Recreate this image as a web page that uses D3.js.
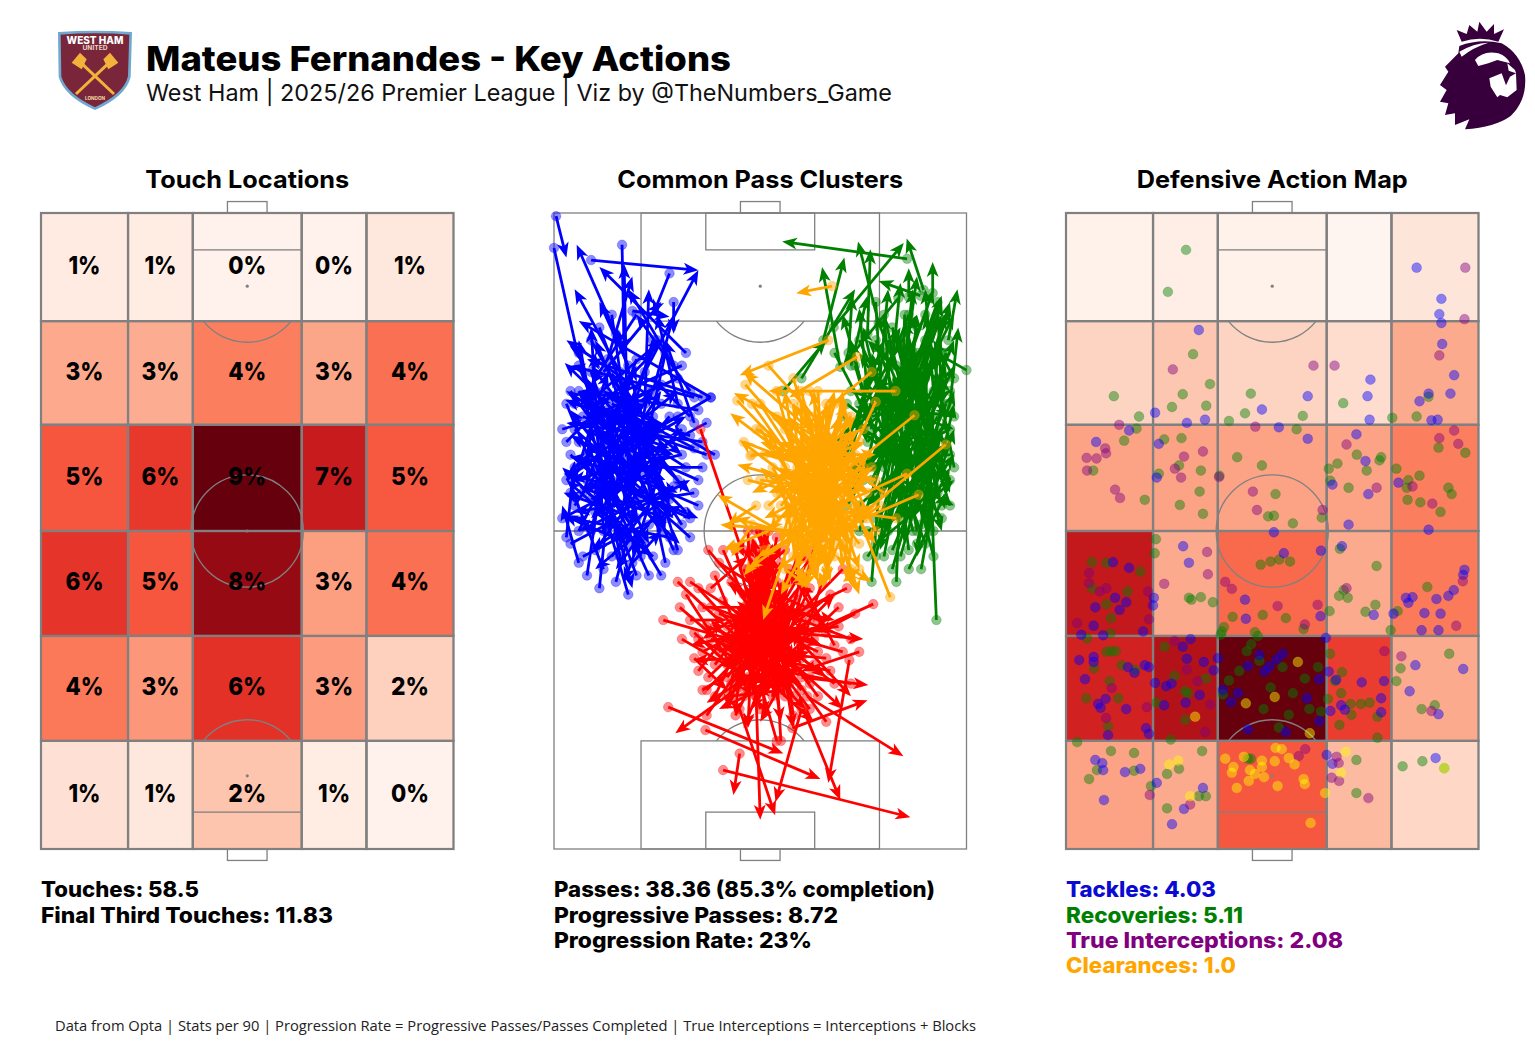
<!DOCTYPE html>
<html>
<head>
<meta charset="utf-8">
<script src="https://cdn.jsdelivr.net/npm/d3@7"></script>
<style>
  html, body { margin: 0; padding: 0; background: #fff; }
  svg { display: block; }
  text { font-family: Inter, "Noto Sans", sans-serif; }
</style>
</head>
<body>
<svg id="chart" width="1535" height="1044"></svg>
<script>
// pitch zones, read left to right and far end first
const zoneAcross = [0, 21.1, 36.8, 63.2, 78.9, 100];
const zoneAlong = [100, 83, 66.7, 50, 33.5, 17, 0];

const touchShare = [
  [0.51, 0.5, 0.2, 0.15, 0.75],
  [2.8, 2.7, 4.0, 2.9, 4.4],
  [5.1, 5.9, 9.2, 7.0, 5.0],
  [6.0, 5.1, 8.3, 3.1, 4.4],
  [4.2, 3.3, 6.1, 3.2, 1.6],
  [1.0, 0.7, 2.0, 0.5, 0.2],
];

const defensiveCount = [
  [0.8, 1.6, 0.8, 0, 3.5],
  [6.5, 8.5, 6.5, 5, 12],
  [13, 13, 13, 13, 17.5],
  [31, 12, 20, 12, 18],
  [29, 33, 40, 25, 12],
  [13, 12, 22, 10, 6],
];

// passes: [across start, along start, across end, along end]
const bluePasses = [
  [0.5,99.5,3,93],[0,94.5,6,77],[9,92.6,35,91],[16.5,95,17,78],[28,90.5,24,84],[29,86,29,81],[19,84.6,28,83.7],[15,81,5.5,95],
  [32,78,11,91.5],[13,77,19,90],[22,75,35,91],[16,75,5,88],[29,76,18,88],[38,71,6,83],[18,58,17,92],[36,71,8,77],
  [34,71,4,76],[30,74,9,68],[26,73,6,66],[33,65,8,70],[39,62,12,72],[36,64,3,67],[34,63,16,69],[37,62,19,66],
  [32,60,3,72],[30,68,6,60],[38,71,14,62],[2,66,22,70],[4,72,14,63],[7,68,28,63],[12,72,31,62],[10,60,32,68],
  [9,55,28,62],[5,60,22,70],[6,50,20,68],[4,56,13,75],[3,64,24,78],[8,70,26,80],[24,58,10,80],[20,55,8,74],
  [25,60,15,82],[28,55,14,75],[30,58,9,76],[26,50,4,69],[22,48,6,62],[18,50,2,60],[24,46,3,58],[28,49,4,52],
  [27,52,6,57],[35,54,10,61],[33,52,12,58],[34,56,5,53],[33,49,14,60],[31,51,16,66],[29,47,17,64],[6,45,2,54],
  [12,44,4,57],[20,43,8,64],[23,43,11,60],[26,43,14,56],[18,40,10,58],[3,49,5,61],[14,58,30.5,48],[10,53,24,46],
  [13,56,19,41],[16,68,2.6,76.4],[22,66,2.7,70.6],[24,60,3.9,61.6],[22,56,2.3,59],[20,52,2.3,56],[18,48,2.3,52.5],[6,64,27,58],
  [10,66,29,62],[14,70,32,65],[5,70,26,66],[21,64,6,72],[15,61,26,72],[13,64,20,76],[18,62,10,66],[8,62,30,56],
  [25,65,12,54],[28,68,15,58],[31,66,9,52],[12,58,20,72],[17,54,24,66],[9,50,16,70],[11,66,21,58],[19,70,13,50],
  [23,72,16,52],[27,62,19,46],[16,57,35,52],[14,52,7,72],[21,59,4,65],[24,68,8,56],[19,66,27,50],[7,56,18,74],
  [4,62,16,55],[15,49,22,62],[10,72,24,54],[17,73,20,60],[20,77,14,66],[6,76,12,66],[24,80,17,64],[11,82,18,70],
  [20,84,9,73],[25,80,13,62],[27,78,21,60],[14,84,18,66],[9,80,23,64],[6,78,15,55],[31,76,10,70],[26,70,3,80],
  [33,72,20,84],[12,75,26,86],[18,76,11,86],[22,70,23,88],[30,70,25,84],[24,72,29,84],[34,67,27,80],[8,58,10,78],
  [12,50,9,82],[16,46,6,80],[5,54,24,72],[3,58,30,72],[2,52,26,60],[4,48,33,58],[7,46,31,54],[10,47,27,62],
  [14,46,25,56],[21,46,12,68],[27,45,18,72],[30,47,22,64],[32,53,15,64],[35,58,7,66],[36,60,17,60],[37,67,11,58],
  [35,69,6,72],[33,68,24,74],[31,62,4,58],[29,57,6,50],[27,55,9,47],[25,53,15,44],[23,51,10,44],[21,49,17,42],
  [19,45,26,50],[15,42,20,54],[11,41,14,60],[8,43,11,56],[17,71,28,54],[13,69,33,56],[9,75,19,56],[5,66,29,52],
  [3,70,17,48],[6,72,23,48],
];

const greenPasses = [
  [85.6,92.8,55.3,95.5],[78.7,82.7,73.7,95.5],[76,81,76.7,94.3],[67.8,82,84.8,95.3],[89.6,87.9,85.5,96],[91.8,87.4,91.8,92.3],[86,86.8,86,91.3],[88.8,87,78.7,89.3],
  [95.6,80,97.8,88],[69.4,75.8,65,91.5],[65.3,80,70.4,93],[71.4,78,72.3,87],[60,74,73,88],[72,76,76,87],[83.5,86.6,70,76],[93,86,84,70],
  [100,75.3,90,79],[68,78,76,68],[55.6,72,66,80],[78,60,92,82],[82,58,94,80],[86,56,95,76],[84,54,88,84],[90,52,93,78],
  [92,50,86,80],[80,65,96,72],[79,70,97,66],[77,75,95,60],[78,80,90,58],[82,82,96,56],[85,84,84,60],[88,82,80,56],
  [90,80,76,60],[94,78,78,62],[96,72,80,66],[97,68,76,70],[95,64,78,74],[92,60,74,78],[96,58,82,74],[94,54,84,76],
  [91,50,90,80],[88,48,94,66],[86,47,82,68],[82,44,90,62],[77,42,79,58],[89,51,96,60],[92.7,36,91,63],[93,62,85,83],
  [87,60,92,84],[84,66,94,86],[81,72,93,82],[79,56,87,78],[76,64,86,72],[74,70,84,82],[80,78,88,66],[83,76,96,68],
  [85,72,78,84],[88,74,72,66],[91,70,76,80],[93,74,82,60],[95,70,84,52],[96,66,72,58],[90,66,97,76],[92,56,97,70],
  [86,52,97,62],[84,58,97,54],[78,52,96,64],[82,62,75,82],[87,68,80,50],[89,64,83,80],[91,62,79,72],[93,68,86,60],
  [85,78,93,64],[88,78,86,64],[82,70,90,74],[80,60,84,72],[83,64,92,70],[86,72,90,60],[88,58,80,70],[94,60,88,76],
  [77,68,88,70],[75,58,82,78],[72,62,77,76],[70,68,85,62],[74,54,87,62],[78,46,83,60],[81,50,85,66],[89,44,93,58],
  [82,47,88,56],[76,50,90,54],[84,46,92,64],[90,57,82,52],[66,56,80,74],[68,64,78,70],[71,54,82,66],[73,60,91,66],
  [76,72,74,85],[79,74,81,88],[82,76,84,89],[85,76,88,90],[87,74,94,87],[90,74,96,85],[92,72,90,88],[94,70,93,86],
  [96,70,98,82],[97,74,92,80],[80,84,86,68],[86,84,78,70],[90,84,82,72],[92,82,85,62],[95,78,88,58],[78,86,80,64],
  [74,80,88,60],[72,72,90,68],[75,66,96,78],[77,58,97,84],[79,52,95,84],[81,54,87,88],[84,52,80,84],[87,50,77,78],
  [90,48,75,74],[92,46,84,66],[94,52,79,66],[96,54,82,82],[97,60,90,84],[95,58,76,76],[93,56,74,66],[91,54,97,66],
  [88,54,97,72],[85,60,97,80],[83,58,96,86],[81,62,94,84],[79,64,92,88],[77,66,72,80],[75,72,70,84],[73,76,82,56],
  [71,70,94,58],[70,64,88,84],[69,60,80,80],[72,56,91,76],[74,50,86,74],[76,46,93,62],[78,48,97,58],[80,46,87,70],
  [83,42,84,58],[86,44,95,56],[88,50,84,64],[90,60,78,50],[92,64,88,46],[94,66,76,54],[96,62,71,60],[95,74,89,52],
  [89,72,79,47],[87,78,85,48],[84,80,91,50],[81,80,94,50],[89,76,96,72],[91,78,83,68],
];

const redPasses = [
  [26.5,36,48,32],[30,42,50,30],[33,42,52,34],[37.4,47,53,35],[39,43,46,32],[41,47,54,28],[44,47,51,30],[27.7,22.3,55.6,15],
  [36.7,18.7,64.6,11],[45,15,43.5,8.5],[41,12.4,86.4,5],[71.6,29.7,66.5,10.4],[61.4,24,84.7,14.6],[49,24,50,4.6],[45,22,53.6,5.3],[60,22,53.7,7.4],
  [60.4,22,69.4,7.7],[45,25.5,29.4,18.2],[57.8,19,76,23.4],[60,27,76.2,25.8],[58,34,75,33],[47,34,33,32],[46,30,33.8,29.7],[77.4,38.5,62,34],
  [69,38,56,30],[70,31,54,34],[67,28,52,30],[72,26,55,28],[66,20,55,30],[55,17,54,28],[54,17,50,26],[37,21,50,33],
  [37,25,46,31],[37.4,27,52,36],[39,29,50,38],[37,35,53,31],[30.5,38,52,26],[32,40,48,24],[35,41,55,27],[36,38,48,38],
  [41,32,60,26],[42,29,59,35],[43,26,60,38],[44,34,61,30],[45,37,65,32],[47,39,68,36],[48,36,66,27],[50,34,70,22],
  [52,38,72,24],[53,30,68,40],[55,36,42,42],[57,33,44,38],[59,31,43,34],[61,34,42,30],[63,29,44,26],[62,26,46,38],
  [60,36,48,22],[58,39,46,19],[56,27,50,20],[54,35,58,19],[52,33,55,20],[50,37,51,21],[48,32,47,19],[46,36,44,21],
  [44,30,42,22],[49,30,61,22],[51,27,63,20],[53,26,40,22],[47,27,37,23],[45,31,38,36],[43,36,36,33],[50,42,52,27],
  [49,46,50,30],[51,48,53,32],[47,43,55,32],[52,44,49,28],[54,42,47,30],[48,48,56,34],[50,50,52,38],[46,44,51,36],
  [53,47,50,34],[55,45,46,34],[57,42,52,32],[59,40,50,28],[60,43,53,26],[56,38,50,42],[52,36,51,50],[50,30,47,48],
  [54,28,53,46],[48,26,50,44],[56,30,55,42],[46,40,58,37],[61,38,47,42],[64,36,50,40],[66,34,57,44],[68,32,60,42],
  [73,37,64,34],[74,31,60,28],[65,42,59,30],[63,44,53,36],[70,44,58,36],[40,45,52,40],[34,34,44,28],[36,31,45,34],
  [33,36,42,36],[39,24,44,31],[43,24,50,36],[56,24,52,34],[64,24,56,31],[62,22,48,34],[38,33,58,28],[40,37,60,33],
  [31,33,47,27],[35,28,46,37],[69,35,50,33],[67,40,48,30],[71,41,55,36],[38,41,47,46],[35.5,66,46,46],[42,24,56,25],
  [47,44,51,27],[49,42,55,26],[51,44,47,28],[53,42,58,28],[55,40,44,29],[46,38,57,25],[48,40,60,29],[50,40,45,25],
  [52,40,54,24],[54,38,48,24],[56,36,51,24],[45,33,62,35],[44,28,62,31],[43,31,58,38],[47,25,57,37],[49,24,46,37],
  [51,25,50,39],[53,24,55,38],[55,25,43,37],[57,26,44,33],[59,28,43,27],[60,30,48,26],[61,32,52,26],[62,36,46,29],
  [42,35,60,37],[41,33,56,26],[42,27,53,37],[44,25,60,34],[46,24,59,38],[58,24,47,39],[60,25,45,36],[62,27,44,35],
  [63,33,42,33],[64,31,48,36],[65,35,43,32],[40,31,54,36],[39,35,52,29],[41,39,55,31],[43,42,53,33],[57,44,50,29],
  [59,46,52,33],[61,46,47,34],[63,47,55,29],[65,49,54,37],[47,50,48,37],[49,50,56,39],[52,50,49,38],[54,49,52,42],
  [48,47,55,44],[46,47,53,41],[56,47,47,42],[50,47,47,39],[51,36,50,47],[49,36,53,48],[53,36,47,46],[47,36,55,48],
  [55,33,48,49],[45,29,51,45],[58,30,47,46],[44,21,52,31],[50,22,44,36],[58,21,55,36],[38,38,47,36],[35,33,50,28],
  [36,25,51,31],[66,30,48,31],[68,26,50,35],[62,41,50,25],[34,30,42,25],[72,33,56,37],
];

const orangePasses = [
  [67.4,88.5,58.7,87.4],[66.5,80,45,74.5],[73.5,77.4,57,71],[77,75,60,66],[82.8,72,52,72],[78,70.3,72,62],[87.4,68.2,64,56],[95,63.6,66,48],
  [85.6,59,62,52],[88.4,55.7,68,50],[83,52,60,54],[81.5,39.6,68,62],[70,48,72.6,41],[59,52,50.7,36],[68,58,61,41],[72,60,65,41],
  [62,66,46,75],[66,64,43.6,71.7],[60,60,42.7,68.5],[62,56,45,64.3],[70,56,44.4,60.4],[60,48,39.6,55.7],[58,50,40.3,51],[46.4,73,64,60],
  [44.4,70.5,66,56],[47.6,61.8,70,64],[52,76,74,60],[48,70,70,50],[54,68,76,52],[58,74,68,54],[64,72,66,50],[62,72,72,56],
  [70,70,62,52],[72,68,58,58],[75,66,56,62],[76,62,52,56],[78,58,50,64],[80,56,54,68],[74,54,58,70],[72,50,60,66],
  [68,46,62,68],[66,44,66,70],[64,46,70,72],[62,48,72,66],[58,46,76,62],[56,48,78,54],[54,52,76,58],[52,54,74,66],
  [50,58,74,56],[48,62,78,62],[50,66,64,52],[56,66,68,46],[60,70,60,46],[54,62,62,62],[58,62,70,60],[62,60,74,50],
  [64,58,58,48],[66,60,52,50],[68,62,48,56],[70,54,50,46],[72,52,54,44],[74,48,60,60],[76,56,64,66],[78,50,68,64],
  [60,64,78,48],[58,58,72,46],[64,54,66,66],[66,52,62,62],[68,50,56,56],[63,68,68,58],[61,56,73,62],[69,66,57,52],
  [71,64,63,48],[65,62,71,48],[55,56,65,46],[53,60,67,44],[67,70,64,44],[60,54,77,60],[57,52,70,68],[73,58,55,52],
  [75,52,59,56],[49,54,42,51],[52,50,41,47],[55,50,44,52],[48,51,43,46],[60,50,47,44],[63,50,55,40],[69,48,64,41],
  [67,46,58,42],[62,44,61,41],[71,46,74,40],[74,44,70,42],[72,44,77,42],[56,44,62,41],[66,48,60,41],[51,47,46,43],
  [60,72,68,48],[66,70,60,50],[64,66,64,44],[68,70,58,46],[71,68,62,44],[74,64,56,48],[77,60,58,44],[79,54,62,46],
  [76,52,54,60],[70,48,50,60],[66,46,52,66],[62,46,56,72],[59,48,68,72],[57,50,71,70],[55,54,73,68],[53,58,75,64],
  [51,62,77,58],[49,66,76,56],[47,58,72,54],[46,64,70,58],[50,70,66,54],[54,72,64,48],[58,70,60,56],[62,64,68,52],
  [64,60,74,58],[66,56,64,68],[68,54,60,66],[70,52,58,62],[72,48,56,58],[60,58,66,48],[58,54,70,56],[56,60,72,50],
  [54,56,67,62],[63,52,69,68],[65,50,63,72],[67,52,61,70],[69,56,57,68],[71,60,55,64],[73,62,53,58],[75,60,51,52],
  [65,66,62,50],[63,62,72,64],[61,62,55,48],[59,60,67,42],[57,56,64,42],[55,58,60,42],[67,64,70,44],[69,60,66,42],
  [61,68,74,44],[73,54,71,42],
];

// defensive actions: [across, along]
const tacklePoints = [
  [85,91.4],[91,86.5],[90.5,84.1],[91,82.7],[91.2,79.4],[94.1,74.5],[93.2,71.6],[87.9,71.6],[85.7,70.4],[88.6,67.4],[90.1,67.5],[73.8,73.8],[73.1,71.2],[73.6,67.5],[58.6,71.2],[47.5,69.1],
  [51.6,66.3],[33.7,67.5],[29.3,67],[21.6,68.6],[32.2,81.6],[22.5,63.7],[22,58.4],[64.6,57.3],[58.6,64.5],[72.6,61],[68.5,51],[73.3,55.8],[70.4,65.2],[80.6,57.6],[87.9,50.2],[7.3,64],
  [15.3,65.8],[50.4,49.8],[11.4,45.1],[15.3,44.2],[11.9,39.5],[14.6,38.8],[7.1,38],[13,37.6],[6.7,35.1],[3.7,33.7],[9,33.6],[18.7,34.2],[28.4,47.6],[29.8,45],[21.3,39.5],[21.1,38.3],
  [52.8,46.5],[61.8,46.9],[43.4,39.2],[43.6,36.2],[61.7,36.6],[66.9,47.6],[74.6,36.8],[79.4,37],[82.4,39.5],[84,39.6],[83,38.7],[89.8,39.3],[92.7,39.8],[94,40.7],[86.9,37.1],[90.8,37],
  [86.2,34.4],[90.3,34.4],[96.6,43.9],[96.3,43.1],[3.2,29.7],[6.7,30.2],[6.7,29.4],[4.6,26.7],[15,28.6],[16.6,27.7],[19.1,28.9],[20.1,28.6],[7.8,22.8],[8.4,22.2],[9.6,23.6],[14.6,22],
  [19.4,19],[20.1,18.1],[10.2,17.9],[28.3,31.8],[30.2,33],[29.3,29.9],[33.4,29.4],[21.6,26.1],[24.3,25.6],[25.6,26],[32.4,24.2],[23.8,22.6],[29,23],[46.9,30.5],[52.5,30.7],[51,29.8],
  [49.3,28.7],[48.1,27.9],[44.1,28.8],[38,25],[41.7,24.5],[40,23.1],[58.4,23.7],[61.4,26.7],[44.1,18.8],[53.3,18.4],[61.4,20.1],[36.8,30],[35.8,28.1],[63,33.2],[63.7,27.9],[65.5,26.6],
  [71.7,26.2],[77.1,26.4],[76.4,23.7],[66.7,22.6],[67.6,21.9],[64.1,21.7],[76.4,21.5],[84.7,28.9],[96.3,28.3],[83.3,24.8],[90.3,21.2],[7.1,14],[8.8,13.5],[9,12.4],[14.3,12.1],[18,12.6],
  [9.2,7.7],[22,10.4],[33.2,9.6],[25.7,3.9],[28.6,6.3],[63.2,14.8],[64.6,13.4],[89.6,14.3],
];

const recoveryPoints = [
  [29.1,94.2],[24.7,87.6],[30.8,77.8],[34.9,73.1],[28.3,71.5],[25.7,69.5],[34,69.7],[11.6,71.2],[17.7,68],[17.1,66.1],[14.1,64.2],[23.8,64.4],[28,64.6],[6.6,59.5],[27.4,60.3],[22.5,59],
  [32.7,59.5],[32.4,56.2],[27.6,54.1],[33.2,52.7],[19.1,54.9],[37.2,58.7],[39.5,67.3],[44.8,71.6],[43.4,68.5],[41.5,61.6],[47.5,60.3],[50.8,55.8],[49,52.3],[50.4,52.4],[55,51.2],[57.4,68.1],
  [55.9,66],[67.2,70.1],[62,52.1],[63.7,59.8],[65.8,60.6],[64.1,57.9],[70.5,62],[72.9,59.5],[68.5,56.8],[76,61.1],[76.4,61.6],[79.1,67.8],[85,68],[87.9,71.1],[80.1,59.8],[83,58],
  [85.7,58.7],[82.6,56.8],[82.8,54.9],[85.9,54.5],[90.8,53],[92.7,56.8],[93.5,55.8],[90.3,63.1],[96.8,62.3],[6.3,45.1],[9.8,45],[18,43.6],[6.3,41],[14.9,40.5],[9.8,38.5],[10.9,36.3],
  [10.8,33.9],[5.1,33.1],[21.8,48.7],[21.5,46.5],[29.8,39.5],[30.4,39.2],[32.7,39.6],[35.6,38.8],[47.2,44.7],[49.6,45.2],[51.7,45.5],[54.3,45.2],[40.4,36.5],[47.7,36.8],[53.3,36.3],[57.6,34.6],
  [38.3,34.9],[37.8,34.2],[37.5,33.7],[45.8,34.1],[46.5,33.5],[63.9,37.4],[66.4,47.2],[75.3,44.5],[67.3,40.7],[66.2,39.8],[68.3,39.5],[72.6,37.3],[75,38.4],[87.6,41.2],[80.4,37.4],[78.7,34.4],
  [9.8,31],[10.9,31.1],[12.1,31.1],[6.8,28.4],[13.5,28.9],[10.6,26.4],[4.9,23.7],[12.7,23.7],[10.2,19.3],[16.7,28.2],[23.9,31.8],[21.9,23],[26.3,27.2],[28.8,24.8],[29.6,24.5],[33.9,26.8],
  [28.9,20.3],[43.8,31.1],[44.9,32.2],[46.9,29.6],[52.5,28.6],[42,28],[39.5,26.5],[38,24.3],[49.6,25.4],[55,24.5],[57.9,26.8],[47.9,22],[59,22],[54,21.1],[51.6,19.1],[61.1,28.6],
  [61.8,21.6],[64,30.7],[66.9,27.8],[65.2,26.4],[66.7,24.5],[63.5,23.6],[69,22.8],[71.5,22.8],[73.6,23],[69.2,21.1],[66.3,19.5],[75.5,20.8],[75.5,17.5],[92.9,30.7],[81.1,28.4],[80.1,26.4],
  [86.2,22],[89.4,22.6],[2.7,16.8],[10.9,15.4],[16.5,15.1],[7.5,12.4],[5.6,11],[16.5,12.3],[25.4,17.2],[33,15.4],[27.4,12.6],[24.5,11.8],[20.6,9.9],[24.5,6.4],[32.2,8.3],[33.9,8.3],
  [44.8,14.2],[44.1,14.2],[70.4,14],[70.4,8.8],[81.6,13],[86.4,13.8],[91.7,12.7],
];

const interceptionPoints = [
  [96.8,91.4],[96.6,83.3],[90.5,77.6],[60,76],[65.1,76],[25.9,75.4],[12.9,66.7],[45.9,66.4],[9.5,63],[9.7,62.2],[5,61.5],[7.4,61.4],[5.1,59.5],[11.9,56.5],[13.1,55.2],[33.2,62.5],
  [28.6,61.7],[26.4,59.8],[27.9,58.4],[37.1,58.5],[45.3,56.2],[46.3,53.3],[62.2,53.3],[68,63.6],[75.3,56.8],[84,57],[88.8,54.3],[94.1,65.8],[90.5,64.6],[95.1,63.7],[5.6,43.4],[5.6,41.8],
  [9.8,41],[8.2,40.5],[19.9,40.5],[20.1,36.1],[2.7,35.5],[34.2,46.7],[34.4,43.2],[23.8,41.7],[38.6,42],[40.2,40.9],[51.3,38.2],[61,38.4],[57.9,35.3],[68,41],[96.2,42.1],[94.6,35.1],
  [11.1,25.3],[9.7,20.6],[19.6,22.3],[26.3,32.7],[29.3,28.2],[31.9,26.4],[35,22.7],[33.7,18.4],[77.2,31.1],[81.3,30.3],[88.6,21.7],[20.3,8.5],[30.1,7],[65.6,14.5],[66.1,13.5],[64.4,11.2],
  [66.2,10.7],[73.3,8],[56.4,14.6],[58,15.7],
];

const clearancePoints = [
  [31.3,20.8],[56.2,29.4],[50.6,23.9],[43.6,22.9],[59.1,18.2],[25,13.3],[27.2,13.9],[30.1,8.3],[50.8,15.9],[52.3,15.7],[43.1,14.5],[38.6,14.2],[47.5,13.9],[50.6,13.8],[54,14.3],[40.6,12.9],
  [47.5,12.9],[55.4,13.3],[40.2,12],[44.6,12.4],[45.8,11.8],[48,11.3],[44.3,10.7],[57.6,11],[57.9,10.2],[41.4,9.6],[51.3,9.9],[59.3,4.1],[62.8,8.8],[67.8,15.3],[66.7,12],[91.7,12.7],
];

const touchStats = ['Touches: 58.5', 'Final Third Touches: 11.83'];
const passStats = ['Passes: 38.36 (85.3% completion)', 'Progressive Passes: 8.72', 'Progression Rate: 23%'];
const defenseStats = ['Tackles: 4.03', 'Recoveries: 5.11', 'True Interceptions: 2.08', 'Clearances: 1.0'];

const svg = d3.select('#chart');
const lineColor = '#808080';
const pitchTop = 213, pitchBottom = 849, pitchWidth = 412.5;
const lefts = [41, 554, 1066];

// text helper, no Montserrat here so squeeze to the width in the picture
function label(parent, str, x, y, size, weight, fit, color, anchor) {
  const t = parent.append('text')
    .attr('x', x).attr('y', y)
    .attr('font-size', size).attr('font-weight', weight)
    .attr('fill', color || '#000')
    .attr('text-anchor', anchor || 'start')
    .text(str);
  if (fit) t.attr('textLength', fit).attr('lengthAdjust', 'spacingAndGlyphs');
  return t;
}

function scalesFor(left) {
  return {
    x: d3.scaleLinear().domain([0, 100]).range([left, left + pitchWidth]),
    y: d3.scaleLinear().domain([0, 100]).range([pitchBottom, pitchTop]),
  };
}

function drawPitch(g, x, y) {
  const box = (a0, a1, l0, l1) => g.append('rect')
    .attr('x', x(a0)).attr('y', y(l1))
    .attr('width', x(a1) - x(a0)).attr('height', y(l0) - y(l1))
    .attr('fill', 'none').attr('stroke', lineColor).attr('stroke-width', 1.3);
  box(0, 100, 0, 100);
  box(21.1, 78.9, 0, 17);
  box(21.1, 78.9, 83, 100);
  box(36.8, 63.2, 0, 5.8);
  box(36.8, 63.2, 94.2, 100);
  box(45.2, 54.8, -1.8, 0);
  box(45.2, 54.8, 100, 101.8);
  g.append('line')
    .attr('x1', x(0)).attr('x2', x(100)).attr('y1', y(50)).attr('y2', y(50))
    .attr('stroke', lineColor).attr('stroke-width', 1.3);

  const r = x(13.6) - x(0);
  const arcGap = Math.acos((y(11.5) - y(17)) / r);
  const arc = d3.arc().innerRadius(r).outerRadius(r);
  const ring = (cx, cy, a0, a1) => g.append('path')
    .attr('d', arc({ startAngle: a0, endAngle: a1 }))
    .attr('transform', `translate(${cx},${cy})`)
    .attr('fill', 'none').attr('stroke', lineColor).attr('stroke-width', 1.3);
  ring(x(50), y(50), 0, 2 * Math.PI);
  ring(x(50), y(11.5), -arcGap, arcGap);
  ring(x(50), y(88.5), Math.PI - arcGap, Math.PI + arcGap);

  [11.5, 88.5, 50].forEach((l) => {
    g.append('circle').attr('cx', x(50)).attr('cy', y(l)).attr('r', 1.6).attr('fill', lineColor);
  });
}

function drawHeat(g, x, y, values, colorMax) {
  const color = d3.scaleSequential(d3.interpolateReds).domain([0, colorMax]);
  values.forEach((row, r) => {
    row.forEach((v, c) => {
      g.append('rect')
        .attr('x', x(zoneAcross[c])).attr('y', y(zoneAlong[r]))
        .attr('width', x(zoneAcross[c + 1]) - x(zoneAcross[c]))
        .attr('height', y(zoneAlong[r + 1]) - y(zoneAlong[r]))
        .attr('fill', color(v));
    });
  });
}

function drawGrid(g, x, y) {
  for (let r = 0; r < zoneAlong.length - 1; r++) {
    for (let c = 0; c < zoneAcross.length - 1; c++) {
      g.append('rect')
        .attr('x', x(zoneAcross[c])).attr('y', y(zoneAlong[r]))
        .attr('width', x(zoneAcross[c + 1]) - x(zoneAcross[c]))
        .attr('height', y(zoneAlong[r + 1]) - y(zoneAlong[r]))
        .attr('fill', 'none').attr('stroke', lineColor).attr('stroke-width', 2.2);
    }
  }
}

function drawPasses(g, x, y, passes, color) {
  const layer = g.append('g');
  const angle = (d) => Math.atan2(y(d[3]) - y(d[1]), x(d[2]) - x(d[0]));
  layer.selectAll('circle').data(passes).join('circle')
    .attr('cx', (d) => x(d[0])).attr('cy', (d) => y(d[1]))
    .attr('r', 4.8)
    .attr('fill', color).attr('fill-opacity', 0.45)
    .attr('stroke', color).attr('stroke-opacity', 0.25);
  layer.selectAll('line').data(passes).join('line')
    .attr('x1', (d) => x(d[0])).attr('y1', (d) => y(d[1]))
    .attr('x2', (d) => x(d[2]) - 10 * Math.cos(angle(d)))
    .attr('y2', (d) => y(d[3]) - 10 * Math.sin(angle(d)))
    .attr('stroke', color).attr('stroke-width', 2.8);
  layer.selectAll('path').data(passes).join('path')
    .attr('d', 'M0,0L-15,-6L-11,0L-15,6Z')
    .attr('transform', (d) => `translate(${x(d[2])},${y(d[3])}) rotate(${angle(d) * 180 / Math.PI})`)
    .attr('fill', color);
}

function drawPoints(g, x, y, points, color) {
  g.append('g').selectAll('circle').data(points).join('circle')
    .attr('cx', (d) => x(d[0])).attr('cy', (d) => y(d[1]))
    .attr('r', 4.9)
    .attr('fill', color).attr('fill-opacity', 0.45)
    .attr('stroke', color).attr('stroke-opacity', 0.2);
}

// header
label(svg, 'Mateus Fernandes - Key Actions', 146, 71, 34, 800, 585);
label(svg, 'West Ham | 2025/26 Premier League | Viz by @TheNumbers_Game', 146, 101, 23.5, 400, 746, '#111');

// club crest
const crest = svg.append('g').attr('transform', 'translate(40,20) scale(0.3333)');
crest.append('path')
  .attr('d', 'M58,40 Q165,32 272,40 L268,170 Q255,225 165,266 Q75,225 60,170 Z')
  .attr('fill', '#7a263a').attr('stroke', '#6fa9cf').attr('stroke-width', 8);
crest.append('path').attr('d', 'M112,118 L222,222').attr('stroke', '#f3b23a').attr('stroke-width', 9);
crest.append('path').attr('d', 'M218,118 L108,222').attr('stroke', '#f3b23a').attr('stroke-width', 9);
crest.append('path').attr('d', 'M95,128 L120,98 L140,118 L125,148 Z').attr('fill', '#f3b23a');
crest.append('path').attr('d', 'M235,128 L210,98 L190,118 L205,148 Z').attr('fill', '#f3b23a');
crest.append('text').attr('x', 165).attr('y', 71).attr('text-anchor', 'middle')
  .attr('font-size', 30).attr('font-weight', 800).attr('fill', '#fff').text('WEST HAM');
crest.append('text').attr('x', 165).attr('y', 91).attr('text-anchor', 'middle')
  .attr('font-size', 20).attr('font-weight', 700).attr('fill', '#e8d9c5').text('UNITED');
crest.append('text').attr('x', 165).attr('y', 239).attr('text-anchor', 'middle')
  .attr('font-size', 14).attr('font-weight', 700).attr('fill', '#f3d9a0').text('LONDON');

// league lion
const lion = svg.append('g').attr('transform', 'translate(1420,10) scale(0.3333)').attr('fill', '#37003c');
lion.append('path').attr('d', 'M125,95 L110,60 L140,72 L148,45 L172,65 L178,35 L200,65 L222,42 L222,72 L252,58 L235,95 Q180,78 125,95 Z');
lion.append('path').attr('d', 'M118,108 Q180,85 245,100 Q300,130 315,195 Q322,270 272,318 Q225,352 135,358 L148,328 L105,345 L105,310 L75,315 L85,280 L60,275 L80,240 L60,225 L85,185 L75,170 L115,130 Z');
lion.append('path').attr('fill', '#fff').attr('d', 'M118,125 Q160,100 205,98 Q160,112 125,140 Z');
lion.append('path').attr('fill', '#fff').attr('d', 'M165,150 Q190,120 235,130 Q262,140 270,160 L232,150 L205,160 L175,168 Z');
lion.append('path').attr('fill', '#fff').attr('d', 'M262,160 L285,180 L288,190 L266,182 Z');
lion.append('path').attr('fill', '#fff').attr('d', 'M208,205 L245,190 L258,226 L270,200 L288,190 L290,240 L262,262 L240,255 L232,262 L212,230 Z');

// panel titles
const titleBits = [
  ['Touch Locations', 204],
  ['Common Pass Clusters', 286],
  ['Defensive Action Map', 271],
];
titleBits.forEach((t, i) => {
  label(svg, t[0], lefts[i] + pitchWidth / 2, 188, 24, 700, t[1], '#000', 'middle');
});

// touches
{
  const { x, y } = scalesFor(lefts[0]);
  const g = svg.append('g');
  drawHeat(g, x, y, touchShare, 9.2);
  drawPitch(g, x, y);
  drawGrid(g, x, y);
  touchShare.forEach((row, r) => row.forEach((v, c) => {
    const txt = Math.round(v) + '%';
    label(g, txt, x((zoneAcross[c] + zoneAcross[c + 1]) / 2),
      (y(zoneAlong[r]) + y(zoneAlong[r + 1])) / 2 + 7, 25, 800, txt === '1%' ? 32 : 38, '#000', 'middle');
  }));
}

// passes
{
  const { x, y } = scalesFor(lefts[1]);
  const g = svg.append('g');
  drawPitch(g, x, y);
  drawPasses(g, x, y, bluePasses, '#0000ff');
  drawPasses(g, x, y, greenPasses, '#008000');
  drawPasses(g, x, y, redPasses, '#ff0000');
  drawPasses(g, x, y, orangePasses, '#ffa500');
}

// defensive
{
  const { x, y } = scalesFor(lefts[2]);
  const g = svg.append('g');
  drawHeat(g, x, y, defensiveCount, 40);
  drawPitch(g, x, y);
  drawGrid(g, x, y);
  drawPoints(g, x, y, recoveryPoints, '#008000');
  drawPoints(g, x, y, tacklePoints, '#0000ff');
  drawPoints(g, x, y, interceptionPoints, '#800080');
  drawPoints(g, x, y, clearancePoints, '#ffff00');
}

// stats under the pitches
const statRows = [897, 923, 948, 973];
const touchFits = [158, 292];
const passFits = [381, 284, 258];
const defenseFits = [150, 177, 277, 170];
const defenseColors = ['#0a0ad2', '#008000', '#800080', '#ffa500'];
touchStats.forEach((s, i) => label(svg, s, lefts[0], statRows[i], 21.5, 800, touchFits[i]));
passStats.forEach((s, i) => label(svg, s, lefts[1], statRows[i], 21.5, 800, passFits[i]));
defenseStats.forEach((s, i) => label(svg, s, lefts[2], statRows[i], 21.5, 800, defenseFits[i], defenseColors[i]));

label(svg, 'Data from Opta | Stats per 90 | Progression Rate = Progressive Passes/Passes Completed | True Interceptions = Interceptions + Blocks',
  55, 1031, 14.4, 400, 921, '#222').style('font-family', '"Open Sans", sans-serif');
</script>
</body>
</html>
